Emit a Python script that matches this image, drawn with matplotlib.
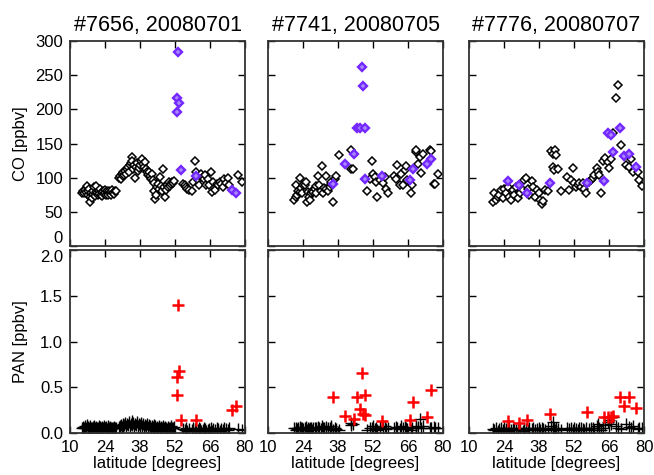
import matplotlib
matplotlib.use("Agg")
import matplotlib.pyplot as plt
import numpy as np

plt.rcParams['font.family'] = ['Liberation Sans', 'DejaVu Sans']

titles = ["#7656, 20080701", "#7741, 20080705", "#7776, 20080707"]
x_ticks = [10, 24, 38, 52, 66, 80]
co_ticks = [0, 50, 100, 150, 200, 250, 300]
pan_ticks = [0.0, 0.5, 1.0, 1.5, 2.0]
pan_ticklabels = ["0.0", "0.5", "1.0", "1.5", "2.0"]

# ---------------- flight 7656 ----------------
f1_lat = [14.7, 15.2, 15.6, 16.0, 16.3, 16.6, 17.0, 17.2, 17.5, 17.8, 18.1, 18.4, 18.7, 19.0, 19.3,
          19.6, 19.9, 20.2, 20.5, 20.8, 21.1, 21.4, 21.7, 22.0, 22.3, 22.6, 22.9, 23.2, 23.5, 23.8,
          24.1, 24.4, 24.7, 25.0, 25.3, 25.6, 25.9, 26.2, 26.5, 26.8, 27.1, 27.4, 27.8, 28.2,
          29.5, 29.9, 30.2, 30.6, 31.0, 31.3, 31.7, 32.0, 32.4, 32.8, 33.1, 33.5, 33.9, 34.2, 34.6,
          34.9, 35.3, 35.7, 36.0, 36.4, 36.8, 37.2, 37.6, 38.0, 38.3, 38.7, 39.1, 39.5, 39.9, 40.3,
          40.6, 41.0, 41.4, 41.8, 42.2, 42.6, 43.0, 43.4,
          43.6, 44.0, 44.4, 44.8, 45.1, 45.5, 45.9, 46.3, 46.7, 47.1, 47.4, 47.8, 48.2, 48.6, 49.0,
          49.4, 49.8, 50.2, 50.6, 51.0, 51.4,
          55.3, 55.8, 56.3, 56.9, 57.7, 58.6, 59.2, 60.0, 60.2, 61.0, 61.5, 62.0, 62.5, 63.0, 63.5,
          64.0, 64.5, 65.0, 65.5, 66.2, 66.6, 67.3, 68.0, 68.6, 69.2, 69.8, 70.4, 71.0, 71.6, 72.2,
          73.0, 73.6, 77.3, 78.7]
f1_co = [78, 80, 77, 82, 79, 88, 75, 81, 84, 72, 64, 78, 70, 76, 80,
         86, 73, 79, 88, 77, 74, 81, 76, 83, 75, 79, 73, 80, 76, 82,
         77, 74, 80, 78, 75, 81, 77, 79, 74, 82, 78, 76, 81, 80,
         100, 103, 98, 105, 102, 108, 104, 110, 106, 112, 115, 109, 118, 122, 130,
         124, 113, 119, 100, 116, 121, 110, 114, 118, 125, 127, 120, 116, 123, 112,
         108, 104, 109, 102, 98, 105, 97, 92,
         81, 69, 75, 86, 91, 84, 101, 88, 80, 112, 87, 71, 82, 90, 86,
         93, 88, 91, 94, 92, 95,
         91, 89, 86, 84, 82, 80, 94, 125, 108, 96, 89, 103, 106, 101, 98,
         104, 89, 98, 89, 108, 79, 94, 82, 91, 89, 94, 91, 86, 98, 92,
         99, 89, 104, 94]
f1_pan = [0.06, 0.07, 0.05, 0.08, 0.06, 0.09, 0.05, 0.07, 0.06, 0.04, 0.08, 0.06, 0.05, 0.07, 0.06,
          0.08, 0.05, 0.06, 0.07, 0.05, 0.06, 0.08, 0.04, 0.07, 0.06, 0.05, 0.07, 0.06, 0.08, 0.05,
          0.06, 0.07, 0.04, 0.06, 0.08, 0.05, 0.07, 0.06, 0.04, 0.06, 0.05, 0.07, 0.06, 0.05,
          0.07, 0.08, 0.09, 0.07, 0.10, 0.08, 0.09, 0.11, 0.08, 0.10, 0.09, 0.12, 0.08, 0.10, 0.13,
          0.09, 0.11, 0.08, 0.10, 0.09, 0.12, 0.08, 0.10, 0.09, 0.11, 0.08, 0.10, 0.07, 0.09, 0.08,
          0.10, 0.07, 0.09, 0.08, 0.06, 0.08, 0.07, 0.09,
          0.06, 0.08, 0.05, 0.07, 0.06, 0.08, 0.05, 0.07, 0.06, 0.08, 0.05, 0.07, 0.06, 0.04, 0.07,
          0.05, 0.06, 0.08, 0.05, 0.06, 0.07,
          0.04, 0.03, 0.05, 0.02, 0.04, 0.03, 0.05, 0.04, 0.02, 0.03, 0.05, 0.04, 0.02, 0.03, 0.05,
          0.04, 0.02, 0.03, 0.04, 0.05, 0.02, 0.04, 0.03, 0.05, 0.04, 0.02, 0.04, 0.03, 0.05, 0.04,
          0.03, 0.05, 0.04, 0.03]
f1_flag_lat = [53.3, 52.7, 53.7, 52.9, 54.3, 60.4, 74.7, 76.3]
f1_flag_co = [284, 217, 209, 196, 111, 102, 82, 78]
f1_flag_pan = [1.40, 0.61, 0.68, 0.42, 0.14, 0.14, 0.25, 0.30]

# ---------------- flight 7741 ----------------
f2_lat = [20.4, 21.0, 21.3, 21.5, 22.0, 22.7, 22.7, 23.0, 23.6, 24.0, 24.7, 25.3, 25.7, 26.0, 26.3,
          26.7, 27.0, 27.6, 28.0, 28.7, 29.0, 29.3, 30.0, 30.3, 31.0, 31.6, 32.0, 32.5, 33.0, 33.3,
          34.0, 34.7, 35.0, 35.3, 36.0, 36.7, 37.3, 38.4, 43.0, 43.3, 44.0,
          49.6, 50.7, 51.6, 52.0, 52.7, 53.3, 53.7, 54.7, 56.0, 56.7, 57.3, 58.0,
          60.3, 61.0, 61.6, 62.7, 63.3, 64.0, 64.7, 65.0, 65.7, 67.0, 67.6, 69.0, 69.3, 70.0,
          70.7, 71.3, 72.0, 74.7, 75.3, 76.3, 76.6, 78.0]
f2_co = [67, 71, 89, 75, 81, 100, 79, 85, 78, 89, 90, 94, 64, 79, 72,
         67, 77, 81, 79, 84, 88, 77, 103, 89, 81, 117, 78, 85, 102, 84,
         81, 86, 91, 94, 64, 98, 102, 133, 112, 140, 112,
         80, 98, 125, 105, 101, 94, 72, 97, 92, 101, 84, 78,
         102, 98, 119, 90, 106, 89, 111, 117, 97, 77, 89, 138, 141, 120,
         130, 107, 135, 140, 139, 91, 91, 105]
f2_pan = [0.05, 0.03, 0.06, 0.04, 0.05, 0.07, 0.03, 0.05, 0.06, 0.04, 0.05, 0.07, 0.03, 0.05, 0.04,
          0.06, 0.05, 0.03, 0.06, 0.05, 0.04, 0.06, 0.07, 0.05, 0.04, 0.08, 0.05, 0.06, 0.07, 0.04,
          0.05, 0.06, 0.08, 0.05, 0.03, 0.06, 0.04, 0.03, 0.09, 0.11, 0.10,
          0.03, 0.06, 0.05, 0.08, 0.04, 0.06, 0.03, 0.07, 0.05, 0.08, 0.04, 0.06,
          0.05, 0.07, 0.06, 0.04, 0.08, 0.05, 0.07, 0.06, 0.04, 0.03, 0.06, 0.08, 0.05, 0.07,
          0.15, 0.05, 0.08, 0.06, 0.05, 0.07, 0.06, 0.05]
f2_flag_lat = [36.0, 40.6, 44.4, 45.4, 46.6, 48.8, 47.6, 48.1, 48.6, 55.6, 66.6, 68.0, 73.6, 75.2]
f2_flag_co = [91, 120, 134, 172, 172, 172, 262, 234, 98, 103, 96, 112, 120, 128]
f2_flag_pan = [0.39, 0.19, 0.15, 0.39, 0.26, 0.41, 0.66, 0.21, 0.20, 0.13, 0.14, 0.34, 0.175, 0.475]

# ---------------- flight 7776 ----------------
f3_lat = [19.5, 20.1, 20.8, 21.5, 22.1, 22.8, 23.5, 24.1, 24.8, 25.5, 26.1, 26.8, 27.5, 28.1, 28.8,
          29.5, 30.4, 31.5, 32.1, 32.8, 33.5, 34.1, 35.2, 35.7, 36.5, 37.1, 37.9, 38.4, 39.2, 39.7,
          40.5, 41.5, 42.8, 43.5, 43.7, 44.1, 44.3, 44.8, 45.5, 46.8, 49.1, 50.1, 50.8, 51.7, 52.1,
          52.8, 53.5, 54.1, 54.8, 55.5, 56.1, 56.8, 58.1, 58.8, 59.5, 60.1, 61.1, 61.5, 62.1, 62.8,
          63.7, 64.5, 65.5, 66.1, 66.8, 67.7, 68.8, 69.7, 70.8, 72.8, 73.9, 74.8, 75.5, 77.5, 78.1,
          79.1]
f3_co = [65, 78, 67, 72, 75, 82, 70, 84, 77, 86, 72, 67, 82, 75, 86,
         70, 77, 82, 97, 100, 84, 75, 95, 87, 72, 82, 77, 68, 62, 66,
         82, 80, 139, 116, 135, 111, 140, 133, 113, 80, 101, 82, 97, 114, 92,
         86, 89, 92, 87, 92, 84, 77, 94, 97, 100, 104, 114, 109, 104, 77,
         125, 129, 123, 114, 128, 166, 216, 235, 148, 118, 116, 128, 109, 109, 97,
         88]
f3_pan = [0.04, 0.03, 0.05, 0.02, 0.04, 0.06, 0.03, 0.05, 0.04, 0.02, 0.05, 0.03, 0.04, 0.06, 0.03,
          0.05, 0.04, 0.02, 0.05, 0.04, 0.03, 0.06, 0.04, 0.05, 0.03, 0.04, 0.06, 0.03, 0.05, 0.04,
          0.03, 0.05, 0.08, 0.12, 0.04, 0.06, 0.03, 0.05, 0.04, 0.03, 0.05, 0.04, 0.06, 0.03, 0.05,
          0.04, 0.03, 0.05, 0.06, 0.04, 0.03, 0.05, 0.04, 0.06, 0.05, 0.03, 0.08, 0.10, 0.05, 0.03,
          0.06, 0.09, 0.12, 0.14, 0.10, 0.18, 0.08, 0.06, 0.04, 0.10, 0.07, 0.05, 0.08, 0.04, 0.06,
          0.05]
f3_flag_lat = [25.6, 30.0, 33.1, 42.5, 57.0, 64.1, 65.7, 67.5, 66.6, 70.2, 71.9, 74.1, 76.8]
f3_flag_co = [95, 89, 77, 92, 92, 95, 166, 138, 163, 173, 131, 135, 115]
f3_flag_pan = [0.13, 0.11, 0.14, 0.21, 0.23, 0.175, 0.175, 0.185, 0.17, 0.39, 0.30, 0.39, 0.27]

flights = [
    (f1_lat, f1_co, f1_pan, f1_flag_lat, f1_flag_co, f1_flag_pan),
    (f2_lat, f2_co, f2_pan, f2_flag_lat, f2_flag_co, f2_flag_pan),
    (f3_lat, f3_co, f3_pan, f3_flag_lat, f3_flag_co, f3_flag_pan),
]

W, H = 654, 475
fig = plt.figure(figsize=(W / 100, H / 100), dpi=100)

lefts = [70, 268, 469]
pw = 175
top_y0, top_y1 = 41, 246
bot_y0, bot_y1 = 250, 433

purple = '#7428FF'
spine_col = '#333333'

for i, (lat, co, pan, flat, fco, fpan) in enumerate(flights):
    l = lefts[i] / W
    ax1 = fig.add_axes([l, 1 - top_y1 / H, pw / W, (top_y1 - top_y0) / H])
    ax2 = fig.add_axes([l, 1 - bot_y1 / H, pw / W, (bot_y1 - bot_y0) / H])

    ax1.plot(lat, co, linestyle='none', marker='D', ms=3.7, mfc='white', mec='black', mew=1.1)
    ax1.plot(flat, fco, linestyle='none', marker='D', ms=4.0, mfc='#A987FF', mec=purple, mew=1.7)
    ax2.plot(lat, pan, linestyle='none', marker='+', ms=8, mec='black', mew=1.0)
    ax2.plot(flat, fpan, linestyle='none', marker='+', ms=8, mec='#FF0000', mew=1.8)

    ax1.set_xlim(10, 80)
    ax2.set_xlim(10, 80)
    ax1.set_ylim(0, 300)
    ax2.set_ylim(0, 2.0)
    ax1.set_xticks(x_ticks)
    ax2.set_xticks(x_ticks)
    ax1.set_yticks(co_ticks)
    ax2.set_yticks(pan_ticks)
    if i == 0:
        ax2.set_yticklabels(pan_ticklabels)
        ax1.set_ylabel("CO [ppbv]", fontsize=12)
        ax2.set_ylabel("PAN [ppbv]", fontsize=12)
        ax1.yaxis.set_label_coords(-42 / pw, 0.5)
        ax2.yaxis.set_label_coords(-42 / pw, 0.5)
    for ax in (ax1, ax2):
        ax.tick_params(direction='in', top=True, right=True, length=5, width=1.0,
                       labelsize=12, pad=5, colors='black')
        for s in ax.spines.values():
            s.set_color(spine_col)
            s.set_linewidth(1.3)
        if i != 0:
            ax.tick_params(labelleft=False)
    ax1.tick_params(labelbottom=False)
    ax2.set_xlabel("latitude [degrees]", fontsize=12, labelpad=1)
    ax1.set_title(titles[i], fontsize=15.5, pad=7)

    if i == 0:
        fig.canvas.draw()
        ax1.get_yticklabels()[0].set_verticalalignment('bottom')
        ax2.get_yticklabels()[-1].set_verticalalignment('top')

fig.savefig("out.png", dpi=100)
